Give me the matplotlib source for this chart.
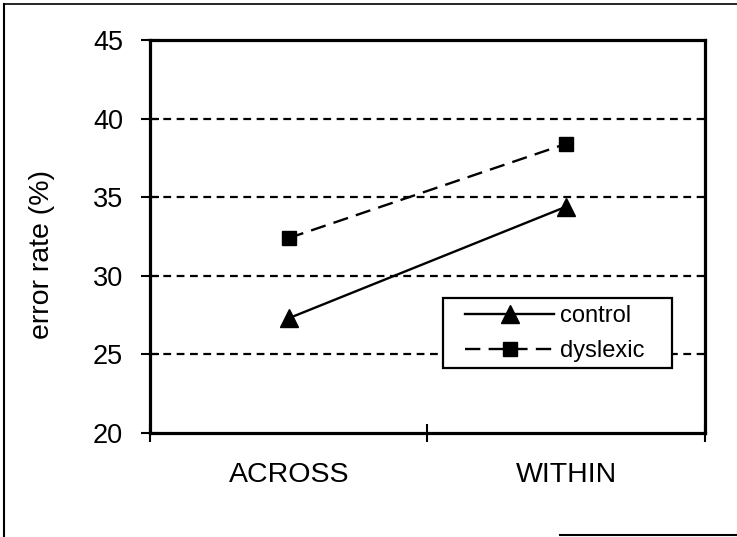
import matplotlib.pyplot as plt
from matplotlib.lines import Line2D
from matplotlib.patches import Rectangle

plt.rcParams['font.family'] = ['Liberation Sans', 'DejaVu Sans']

# Data
conditions = ['ACROSS', 'WITHIN']
control = [27.3, 34.4]
dyslexic = [32.4, 38.4]
yticks = [20, 25, 30, 35, 40, 45]

fig = plt.figure(figsize=(7.37, 5.37), dpi=100)
ax = fig.add_axes([0.2035, 0.1937, 0.7531, 0.7318])

xpos = [0.5, 1.5]

# dashed reference lines
for v in yticks[1:-1]:
    ax.axhline(v, color='black', lw=1.6, ls=(0, (3.5, 2.5)), zorder=1)

ax.plot(xpos, control, color='black', lw=1.7, marker='^', markersize=13,
        label='control', zorder=3)
ax.plot(xpos, dyslexic, color='black', lw=1.7, ls=(0, (6.5, 3.5)), marker='s',
        markersize=10.5, label='dyslexic', zorder=3)

ax.set_xlim(0, 2)
ax.set_ylim(20, 45)
ax.set_yticks(yticks)
ax.set_xticks([0, 1, 2])
ax.set_xticklabels([])
ax.set_xticks(xpos, minor=True)
ax.set_xticklabels(conditions, minor=True, fontsize=20.5)
ax.tick_params(axis='x', which='minor', length=0, pad=21)
ax.tick_params(axis='x', which='major', direction='inout', length=13, width=1.5)
ax.tick_params(axis='y', direction='inout', length=13, width=1.5,
               labelsize=19.5, pad=13)
for s in ax.spines.values():
    s.set_linewidth(2.3)

ax.set_ylabel('error rate (%)', fontsize=20.5)
ax.yaxis.set_label_coords(-0.172, 0.453)

# legend without its own frame; white box drawn underneath
ax.add_patch(Rectangle((0.528, 0.165), 0.413, 0.179, transform=ax.transAxes,
                       facecolor='white', edgecolor='black', lw=1.6, zorder=4))
leg = ax.legend(loc='upper left', bbox_to_anchor=(0.568, 0.325),
                fontsize=17, frameon=False, handlelength=3.75,
                handletextpad=0.25, borderpad=0, labelspacing=0.55,
                borderaxespad=0)
leg.set_zorder(6)

# outer frame of the figure
fig.add_artist(Line2D([0.006, 0.006], [0.0, 0.992], color='black', lw=1.5))
fig.add_artist(Line2D([0.006, 1.0], [0.992, 0.992], color='black', lw=1.2))
fig.add_artist(Line2D([0.76, 1.0], [0.003, 0.003], color='black', lw=1.5))

plt.savefig('out.png', dpi=100)
